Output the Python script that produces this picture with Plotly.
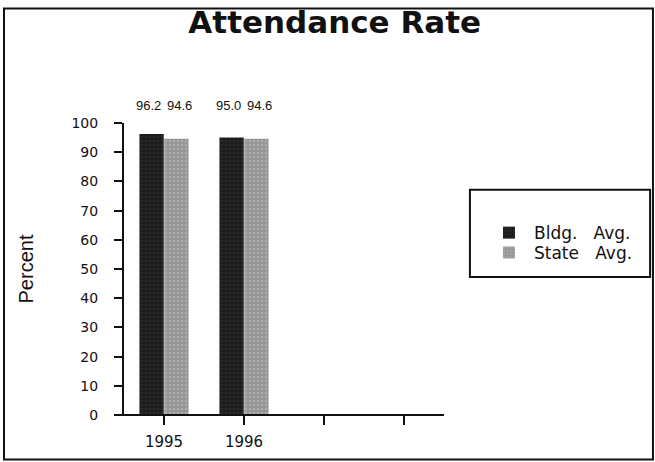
import plotly.graph_objects as go

# ---- data ----
years = ["1995", "1996", "", ""]
bldg_avg = [96.2, 95.0]
state_avg = [94.6, 94.6]
series_names = ["Bldg.\u00a0\u00a0\u00a0Avg.", "State\u00a0\u00a0\u00a0Avg."]
y_ticks = [0, 10, 20, 30, 40, 50, 60, 70, 80, 90, 100]

xpos = list(range(len(years)))

fig = go.Figure()
fig.add_trace(go.Bar(
    x=xpos[:len(bldg_avg)], y=bldg_avg, name=series_names[0], legend="legend",
    marker=dict(color="#1c1c1c", line=dict(width=0),
                pattern=dict(shape=".", fgcolor="#3a3a3a", size=4, solidity=0.3)),
))
fig.add_trace(go.Bar(
    x=xpos[:len(state_avg)], y=state_avg, name=series_names[1], legend="legend2",
    marker=dict(color="#959595", line=dict(width=0),
                pattern=dict(shape=".", fgcolor="#c4c4c4", size=4, solidity=0.3)),
))

# value labels above the plot, aligned with each bar
label_font = dict(family="Liberation Sans, Arial, sans-serif", size=13, color="#111")
for i, (b, s) in enumerate(zip(bldg_avg, state_avg)):
    fig.add_annotation(x=xpos[i], y=1.06, xref="x", yref="paper", text=f"{b:.1f}",
                       showarrow=False, xshift=-16, font=label_font,
                       xanchor="center", yanchor="middle")
    fig.add_annotation(x=xpos[i], y=1.06, xref="x", yref="paper", text=f"{s:.1f}",
                       showarrow=False, xshift=15, font=label_font,
                       xanchor="center", yanchor="middle")

# outer frame
fig.add_shape(type="rect", xref="paper", yref="paper",
              x0=-0.375, x1=1.653, y0=-0.152, y1=1.392,
              line=dict(color="#111", width=2), layer="below")
# legend box
fig.add_shape(type="rect", xref="paper", yref="paper",
              x0=1.081, x1=1.644, y0=0.473, y1=0.771,
              line=dict(color="#111", width=2), layer="below")
# x axis line extending slightly left of y axis
fig.add_shape(type="line", xref="paper", yref="paper",
              x0=-0.028, x1=1.0, y0=0, y1=0,
              line=dict(color="#111", width=2))

tick_font = dict(family="DejaVu Sans, sans-serif", size=14, color="#111")
legend_common = dict(xanchor="left", yanchor="middle", bgcolor="rgba(0,0,0,0)",
                     borderwidth=0, itemwidth=40,
                     font=dict(family="DejaVu Sans, sans-serif", size=17, color="#111"))

fig.update_layout(
    width=655, height=462,
    margin=dict(l=124, r=211, t=123, b=47),
    paper_bgcolor="white", plot_bgcolor="white",
    barmode="group", bargap=0.38, bargroupgap=0.02,
    title=dict(text="<b>Attendance Rate</b>", x=0.511, xanchor="center",
               y=0.952, yanchor="middle", xref="container",
               font=dict(family="DejaVu Sans, sans-serif", size=31, color="#111")),
    showlegend=True,
    legend=dict(x=1.125, y=0.623, **legend_common),
    legend2=dict(x=1.125, y=0.555, **legend_common),
    xaxis=dict(range=[-0.5, 3.5], tickvals=xpos, ticktext=years,
               showgrid=False, zeroline=False, showline=False,
               ticks="outside", ticklen=9, tickwidth=2, tickcolor="#111",
               ticklabelstandoff=4,
               tickfont=dict(family="DejaVu Sans, sans-serif", size=15, color="#111"),
               fixedrange=True),
    yaxis=dict(range=[0, 100], tickvals=y_ticks,
               showgrid=False, zeroline=False, showline=True, linecolor="#111", linewidth=2,
               ticks="outside", ticklen=8, tickwidth=2, tickcolor="#111",
               ticklabelstandoff=13,
               tickfont=tick_font, fixedrange=True,
               title=dict(text="Percent", standoff=32,
                          font=dict(family="Liberation Sans, Arial, sans-serif", size=20,
                                    color="#111"))),
)

fig.write_html("out.html", post_script="document.body.style.margin='0';",
               config={"displayModeBar": False})
